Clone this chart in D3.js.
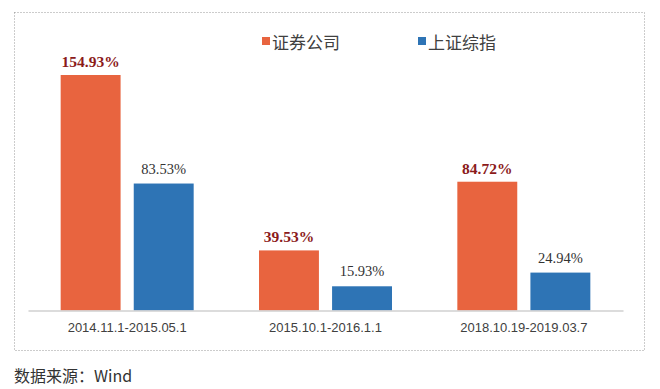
<!DOCTYPE html>
<html><head><meta charset="utf-8">
<script src="https://cdn.jsdelivr.net/npm/d3@7"></script>
<style>html,body{margin:0;padding:0;background:#fff;}svg{display:block;}</style>
</head><body>
<svg id="chart" width="660" height="389"></svg>
<script>
const categories = ["2014.11.1-2015.05.1", "2015.10.1-2016.1.1", "2018.10.19-2019.03.7"];
const seriesNames = ["证券公司", "上证综指"];
const brokerValues = [154.93, 39.53, 84.72];
const indexValues = [83.53, 15.93, 24.94];
const colors = ["#E8643F", "#2E74B5"];
const source = "数据来源：Wind";

const svg = d3.select("#chart");

// dotted frame
svg.append("rect").attr("x", 14.5).attr("y", 12.5).attr("width", 630).attr("height", 338)
  .attr("fill", "none").attr("stroke", "#999").attr("stroke-width", 1).attr("stroke-dasharray", "1,2");

const left = 28, right = 623, baseY = 310.5, topY = 75;
const x0 = d3.scaleBand().domain(categories).range([left, right]).paddingInner(0).paddingOuter(0);
const x1 = d3.scaleBand().domain(seriesNames).range([0, 133]).paddingInner(0.18);
const y = d3.scaleLinear().domain([0, 154.93]).range([baseY, topY]);

const data = categories.map((c, i) => ({cat: c, vals: [brokerValues[i], indexValues[i]]}));

const g = svg.append("g");
data.forEach(d => {
  const gx = x0(d.cat) + (x0.bandwidth() - 133) / 2;
  d.vals.forEach((v, j) => {
    const bx = gx + x1(seriesNames[j]);
    g.append("rect").attr("x", bx).attr("y", y(v)).attr("width", x1.bandwidth())
      .attr("height", baseY - y(v)).attr("fill", colors[j]);
    g.append("text").attr("x", bx + x1.bandwidth() / 2).attr("y", y(v) - (j === 0 ? 8 : 10))
      .attr("text-anchor", "middle")
      .attr("font-family", "'Liberation Serif','Times New Roman',serif")
      .attr("font-size", j === 0 ? 15.5 : 14.5)
      .attr("font-weight", j === 0 ? "bold" : "normal")
      .attr("fill", j === 0 ? "#8B1A1A" : "#333333")
      .text(v.toFixed(2) + "%");
  });
});

// axis
const axis = d3.axisBottom(x0).tickSize(0).tickPadding(12);
const ax = svg.append("g").attr("transform", `translate(0,${baseY})`).call(axis);
ax.select(".domain").attr("stroke", "#d0d0d0").attr("stroke-width", 1.5);
ax.selectAll("text").attr("font-family", "'Liberation Sans',Arial,sans-serif")
  .attr("font-size", 13).attr("fill", "#404040");

// legend
const legX = [262, 418];
seriesNames.forEach((n, j) => {
  svg.append("rect").attr("x", legX[j]).attr("y", 37).attr("width", 8).attr("height", 8).attr("fill", colors[j]);
  svg.append("text").attr("x", legX[j] + 10).attr("y", 48.5)
    .attr("font-family", "'Noto Sans CJK SC',sans-serif").attr("font-size", 17).attr("fill", "#404040")
    .text(n);
});

// source
svg.append("text").attr("x", 14).attr("y", 382)
  .attr("font-family", "'Noto Sans CJK SC',sans-serif").attr("font-size", 16).attr("fill", "#333")
  .text(source);
</script>
</body></html>
